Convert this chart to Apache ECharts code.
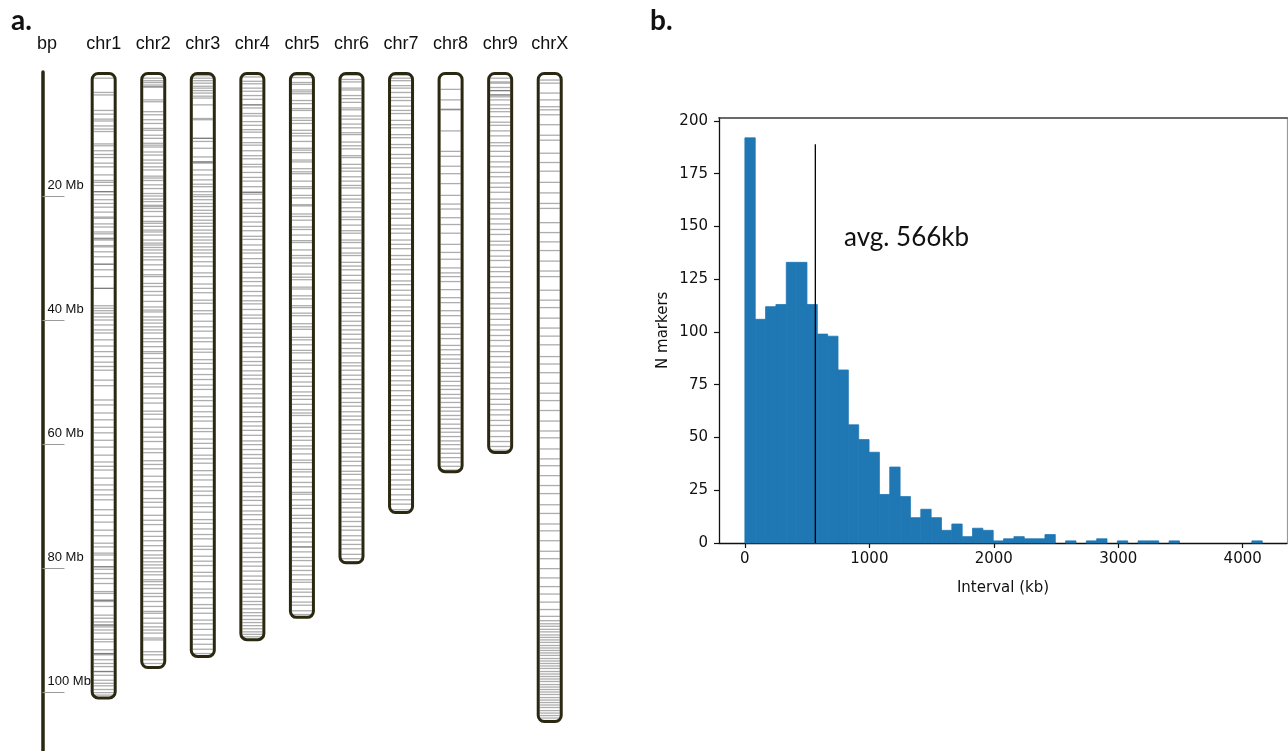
<!DOCTYPE html>
<html>
<head>
<meta charset="utf-8">
<script src="https://cdn.jsdelivr.net/npm/echarts@6/dist/echarts.min.js"></script>
<style>
  html, body { margin: 0; padding: 0; background: #ffffff; }
  #chart { width: 1288px; height: 751px; }
</style>
</head>
<body>
<div id="chart"></div>
<script>
// ---- Panel a: marker positions along each chromosome (Mb) ----
const chromNames = ['chr1', 'chr2', 'chr3', 'chr4', 'chr5', 'chr6', 'chr7', 'chr8', 'chr9', 'chrX'];
const chromLengthMb = [101.2, 96.3, 94.5, 91.8, 88.2, 79.4, 71.3, 64.7, 61.6, 105.0];
const bpTicksMb = [20, 40, 60, 80, 100];

const markersChr1 = [1.0,3.3,3.7,6.2,6.8,7.6,7.9,8.7,9.2,9.6,11.6,11.9,12.7,13.3,13.8,14.7,15.3,16.6,17.5,17.8,18.3,19.3,19.3,19.8,20.6,21.2,21.8,22.6,23.4,23.6,24.5,25.0,25.8,26.1,26.8,26.9,27.1,28.0,28.2,29.0,29.8,31.0,31.0,31.9,33.0,34.9,34.9,37.7,38.1,38.5,38.9,39.5,40.0,40.8,41.6,42.1,43.2,44.2,45.1,45.9,46.8,47.5,48.1,49.7,50.6,52.9,53.7,55.0,56.1,57.3,58.2,59.4,60.5,61.8,62.9,63.6,64.2,65.5,66.6,67.4,68.2,69.0,70.6,71.5,72.6,73.9,74.8,76.0,76.6,77.6,77.9,78.7,79.8,79.8,80.2,80.9,81.7,82.5,83.8,84.1,85.2,85.2,85.4,86.2,87.6,88.1,88.7,89.2,89.2,89.5,90.0,90.5,91.5,91.9,93.2,93.8,93.8,94.0,94.8,95.4,95.9,96.7,96.7,97.3,98.1,98.6,99.0,99.6,100.1,100.5];
const markersChr2 = [1.0,1.4,1.7,2.1,2.4,2.4,4.5,4.8,6.4,6.9,7.7,8.3,9.1,9.4,10.2,10.7,11.5,11.8,12.1,12.9,13.4,14.2,14.7,15.3,15.8,16.8,17.1,17.5,18.2,18.8,19.6,20.0,20.5,20.9,21.5,21.7,22.0,22.5,23.3,24.1,24.4,24.9,25.5,25.8,26.3,27.1,27.6,27.9,28.3,28.7,29.2,29.8,30.3,31.1,31.9,32.7,33.0,34.1,34.6,35.4,36.0,37.0,37.9,38.4,38.7,39.5,40.0,40.5,41.1,41.6,42.1,43.0,43.5,44.3,45.1,45.4,46.2,46.9,47.8,48.5,49.1,50.3,50.8,51.9,52.6,53.4,54.7,55.2,56.0,57.3,58.1,58.9,59.6,60.8,61.4,62.7,63.3,64.0,65.2,66.1,66.9,67.5,68.8,69.4,70.2,71.5,72.3,73.0,74.1,74.9,75.6,76.4,77.2,77.9,78.4,79.0,79.5,80.0,80.6,81.1,81.9,82.2,82.7,83.3,84.1,84.6,85.4,86.2,87.0,87.3,88.1,88.9,89.5,90.0,90.5,91.3,91.6,93.5,94.0,94.8,95.4];
const markersChr3 = [0.6,1.0,1.4,1.8,2.3,2.6,3.0,3.4,3.9,4.2,5.3,7.5,7.7,10.7,10.7,11.2,12.3,13.7,14.5,14.5,14.7,15.8,16.6,17.4,18.1,18.5,19.3,19.8,20.1,20.6,21.2,21.7,22.3,22.8,23.3,23.9,24.4,24.9,25.5,26.0,26.6,27.1,27.6,28.2,28.7,29.2,29.8,30.6,31.3,32.4,33.0,34.2,34.9,35.6,36.8,37.3,38.5,39.0,40.2,41.1,41.8,42.9,43.5,44.7,45.2,46.4,47.0,47.9,48.8,49.6,50.5,51.2,52.4,53.0,53.9,54.8,55.6,56.3,57.5,58.0,59.2,59.9,60.7,61.8,62.4,63.1,64.3,65.0,65.8,66.9,67.6,68.3,69.5,70.1,71.0,72.2,72.8,73.7,74.6,75.3,76.5,77.0,78.1,78.9,79.6,80.7,81.3,82.2,83.4,84.0,84.8,85.9,86.5,87.3,88.4,89.0,89.9,90.8,91.5,92.3,93.1,93.8];
const markersChr4 = [0.4,0.8,1.5,1.9,2.6,3.1,3.8,4.4,5.3,5.3,5.8,6.7,7.1,8.0,8.6,9.3,9.7,10.6,11.4,11.8,12.7,13.5,14.0,14.9,15.3,16.2,17.0,17.6,18.5,19.4,19.4,19.7,20.6,21.1,22.0,22.8,23.3,24.2,24.9,25.6,26.5,27.0,27.9,28.7,29.2,30.1,30.9,31.5,32.3,33.2,33.8,34.5,35.4,36.1,36.9,37.4,38.3,39.2,39.7,40.6,41.5,42.1,42.8,43.7,44.3,45.1,46.0,46.7,47.3,48.2,48.9,49.5,50.4,51.1,51.9,52.6,53.4,54.0,54.9,55.6,56.4,57.1,57.8,58.6,59.5,60.1,60.9,61.7,62.3,63.2,63.9,64.6,65.4,66.2,66.8,67.7,68.5,69.1,69.9,70.8,71.4,72.2,73.0,73.7,74.5,75.2,76.0,76.8,77.5,78.3,79.0,79.7,80.5,81.3,82.0,82.6,83.4,84.1,84.7,85.4,85.9,86.6,87.2,87.7,88.3,88.8,89.3,89.8,90.3,90.7,91.1];
const markersChr5 = [0.5,0.9,1.7,2.0,2.9,3.2,3.5,4.6,5.1,5.9,6.2,7.4,7.8,8.3,9.4,9.9,10.3,11.2,12.3,12.6,13.0,14.2,14.5,15.6,16.1,16.4,17.6,18.5,18.8,19.9,20.3,21.4,21.6,22.9,23.3,23.9,25.0,25.4,26.3,27.2,27.5,28.7,29.6,30.0,30.8,31.3,32.6,33.1,33.5,34.7,35.0,36.1,36.6,37.7,38.0,38.9,39.3,40.6,41.1,41.5,42.8,43.2,44.0,44.9,45.3,46.5,46.9,47.9,48.6,49.1,50.0,50.7,51.6,52.2,52.8,53.6,54.5,55.0,55.4,56.7,57.3,57.9,58.8,59.4,60.3,60.8,61.6,62.6,63.0,64.1,64.5,65.3,66.2,66.9,67.8,68.1,69.0,69.9,70.4,71.5,72.0,72.7,73.6,74.3,75.0,75.8,76.6,76.6,77.4,78.3,78.8,79.7,80.4,81.1,81.9,82.3,83.4,83.9,84.6,85.5,86.0,86.9,87.5];
const markersChr6 = [0.5,1.2,1.6,2.6,2.9,3.8,4.3,4.9,5.8,6.1,7.1,7.6,8.4,9.0,9.8,10.1,11.3,11.9,12.4,13.5,13.8,14.9,15.5,16.0,16.9,17.6,18.3,18.7,19.9,20.5,21.0,21.9,22.5,23.4,23.8,24.7,25.6,26.0,27.1,27.5,28.4,29.2,29.6,30.7,31.3,31.9,32.8,33.6,34.0,35.2,35.7,36.5,37.2,37.9,38.8,39.3,40.2,40.9,41.6,42.3,43.1,43.7,44.6,45.3,45.8,46.9,47.4,48.1,48.9,49.6,50.4,51.1,51.7,52.6,53.3,53.9,54.8,55.5,56.1,56.9,57.8,58.3,59.2,59.9,60.5,61.4,62.1,62.8,63.5,64.4,64.9,65.8,66.6,67.2,68.0,68.9,69.4,70.3,71.0,71.8,72.5,73.3,73.9,74.8,75.5,76.2,76.9,77.8,78.5,79.0];
const markersChr7 = [0.5,1.0,1.4,2.2,2.6,3.3,4.1,4.6,5.5,6.2,6.7,7.8,8.5,9.0,10.1,10.6,11.7,12.2,13.3,13.9,14.8,15.4,16.5,17.1,17.9,18.8,19.5,20.6,21.2,22.1,22.9,23.6,24.7,25.3,26.0,27.1,27.8,28.5,29.6,30.2,31.1,31.9,32.6,33.7,34.3,35.2,36.0,36.8,37.9,38.5,39.3,40.2,40.9,41.8,42.6,43.3,44.2,45.0,45.7,46.6,47.4,48.1,49.0,49.8,50.5,51.4,52.2,52.9,53.8,54.6,55.3,56.2,57.0,57.7,58.6,59.4,60.1,61.0,61.8,62.5,63.4,64.2,64.9,65.8,66.6,67.3,68.2,69.0,69.7,70.6];
const markersChr8 = [2.8,4.5,6.0,6.1,9.5,12.8,13.6,15.2,16.4,18.0,19.9,21.3,22.1,23.5,24.6,26.0,27.8,29.1,30.2,31.6,32.4,33.0,33.8,35.1,36.4,37.2,38.5,39.3,40.6,41.2,42.3,43.0,44.1,44.8,45.6,46.3,47.0,47.8,48.5,49.1,49.9,50.6,51.2,52.0,52.6,53.3,54.1,54.7,55.4,56.0,56.8,57.5,58.1,58.8,59.5,60.1,60.8,61.5,62.2,62.9,63.6,64.2];
const markersChr9 = [1.0,1.6,1.8,2.5,3.0,3.0,3.7,3.7,4.0,4.5,5.3,5.9,6.4,7.2,8.1,8.6,9.5,10.3,11.4,11.9,12.8,13.6,14.5,15.3,16.2,16.9,17.9,18.6,19.4,20.5,21.1,22.0,22.9,23.7,24.5,25.4,26.2,27.3,27.9,28.8,29.7,30.4,31.5,32.2,33.0,33.9,34.8,35.6,36.5,37.4,38.1,39.0,39.9,40.8,41.6,42.5,43.3,44.2,45.1,45.9,46.8,47.6,48.5,49.3,50.2,51.1,51.9,52.8,53.6,54.5,55.3,56.2,57.0,57.9,58.8,59.6,60.4,61.0];
const markersChrX = [1.3,1.8,3.4,4.5,5.6,6.1,6.9,8.5,10.2,11.0,13.1,14.6,16.0,17.8,19.5,21.2,22.0,24.3,25.9,27.4,28.8,30.5,32.1,33.0,35.2,36.8,38.0,39.7,41.3,42.6,44.0,45.9,47.1,48.5,50.2,51.8,53.0,54.6,56.3,57.9,59.0,60.8,62.4,63.5,65.1,66.7,68.0,69.8,71.2,72.9,74.0,75.6,77.3,78.5,80.1,81.6,83.0,84.2,85.5,86.7,87.8,88.5,89.0,89.4,89.9,90.3,90.8,91.2,91.6,92.0,92.5,92.9,93.3,93.7,94.1,94.6,95.0,95.4,95.8,96.2,96.7,97.1,97.5,97.9,98.3,98.8,99.2,99.6,100.0,100.4,100.9,101.3,101.7,102.1,102.5,103.0,103.4,103.8,104.2,104.6];

const markersByChrom = [markersChr1, markersChr2, markersChr3, markersChr4, markersChr5,
                        markersChr6, markersChr7, markersChr8, markersChr9, markersChrX];

// ---- Panel b: histogram of inter-marker intervals ----
const histCounts = [192,106,112,113,133,133,113,99,98,82,56,49,43,23,36,22,12,16,12,6,9,3,7,6,1,2,3,2,2,4,0,1,0,1,2,0,1,0,1,1,0,1,0,0,0,0,0,0,0,1];
const histRangeKb = [0, 4157];
const histTicksKb = [0, 1000, 2000, 3000, 4000];
const countTicks = [0, 25, 50, 75, 100, 125, 150, 175, 200];
const avgIntervalKb = 566;
const avgLineTopCount = 189;
const avgLabel = 'avg. 566kb';

// ---- derived series data ----
const chromBodies = chromLengthMb.map((len, i) => [i, len]);
const markerData = [];
markersByChrom.forEach((list, i) => list.forEach(pos => markerData.push([i, pos])));
const binWidth = (histRangeKb[1] - histRangeKb[0]) / histCounts.length;
const histData = histCounts
  .map((c, i) => [histRangeKb[0] + i * binWidth, histRangeKb[0] + (i + 1) * binWidth, c])
  .filter(d => d[2] > 0);

const OUTLINE = '#2a2810';
const BAR = '#1f77b4';
const SANS = '"Liberation Sans", Arial, sans-serif';
const MPL = '"DejaVu Sans", sans-serif';

function chromRect(api, halfW) {
  const top = api.coord([api.value(0), 0]);
  const bot = api.coord([api.value(0), api.value(1)]);
  return { x: top[0] - halfW, y: top[1] + 1.5, width: halfW * 2, height: bot[1] - top[1] - 3, r: 6 };
}

const chart = echarts.init(document.getElementById('chart'), null, { renderer: 'canvas' });
chart.setOption({
  animation: false,
  backgroundColor: '#ffffff',
  grid: [
    { left: 78.9, width: 495.6, top: 72, height: 682, outerBoundsMode: 'none', containLabel: false },
    { left: 719, width: 568, top: 117.6, height: 425.4, outerBoundsMode: 'none', containLabel: false }
  ],
  xAxis: [
    {
      gridIndex: 0, type: 'category', data: chromNames, position: 'top',
      axisLine: { show: false }, axisTick: { show: false }, splitLine: { show: false },
      axisLabel: { fontSize: 18, color: '#111', fontFamily: SANS, margin: 19 }
    },
    {
      gridIndex: 1, type: 'value', min: -208, max: 4356, position: 'bottom',
      axisLine: { show: true, onZero: false, lineStyle: { color: '#111', width: 1.3 } },
      axisTick: { show: true, customValues: histTicksKb, length: 5, lineStyle: { color: '#111', width: 1.2 } },
      axisLabel: { customValues: histTicksKb, formatter: v => String(v), fontSize: 15, color: '#111', fontFamily: MPL, margin: 9 },
      splitLine: { show: false },
      name: 'Interval (kb)', nameLocation: 'middle', nameGap: 38,
      nameTextStyle: { fontSize: 15, color: '#111', fontFamily: MPL }
    },
    {
      gridIndex: 1, type: 'value', min: -208, max: 4356, position: 'top',
      axisLine: { show: true, onZero: false, lineStyle: { color: '#3a3a3a', width: 1.6 } },
      axisTick: { show: false }, axisLabel: { show: false }, splitLine: { show: false }
    }
  ],
  yAxis: [
    {
      gridIndex: 0, type: 'value', inverse: true, min: 0, max: 110, position: 'left', offset: 36.4,
      axisLine: { show: true, lineStyle: { color: OUTLINE, width: 3.5 } },
      axisTick: { show: true, inside: true, length: 22, customValues: bpTicksMb, lineStyle: { color: '#9a9a9a', width: 1 } },
      axisLabel: {
        show: true, inside: true, customValues: bpTicksMb, margin: 5,
        formatter: v => v + ' Mb', fontSize: 13, color: '#111', fontFamily: SANS,
        verticalAlign: 'bottom', padding: [0, 0, 4, 0]
      },
      splitLine: { show: false },
      name: 'bp', nameLocation: 'start', nameGap: 28,
      nameTextStyle: { fontSize: 18, color: '#111', fontFamily: SANS, align: 'center', verticalAlign: 'middle', padding: [0, 0, 0, 9] }
    },
    {
      gridIndex: 1, type: 'value', min: 0, max: 201.6, position: 'left',
      axisLine: { show: true, onZero: false, lineStyle: { color: '#111', width: 1.3 } },
      axisTick: { show: true, customValues: countTicks, length: 5, lineStyle: { color: '#111', width: 1.2 } },
      axisLabel: { customValues: countTicks, fontSize: 15, color: '#111', fontFamily: MPL, margin: 11 },
      splitLine: { show: false },
      name: 'N markers', nameLocation: 'middle', nameGap: 48, nameRotate: 90,
      nameTextStyle: { fontSize: 15, color: '#111', fontFamily: MPL }
    },
    {
      gridIndex: 1, type: 'value', min: 0, max: 201.6, position: 'right',
      axisLine: { show: true, onZero: false, lineStyle: { color: '#9a9a9a', width: 1.2 } },
      axisTick: { show: false }, axisLabel: { show: false }, splitLine: { show: false }
    }
  ],
  series: [
    {
      // chromosome bodies (white fill)
      type: 'custom', xAxisIndex: 0, yAxisIndex: 0, z: 1, silent: true,
      data: chromBodies,
      renderItem: (params, api) => ({ type: 'rect', shape: chromRect(api, 11.5), style: { fill: '#ffffff' } })
    },
    {
      // one horizontal tick per marker
      type: 'custom', xAxisIndex: 0, yAxisIndex: 0, z: 2, silent: true,
      data: markerData,
      renderItem: (params, api) => {
        const p = api.coord([api.value(0), api.value(1)]);
        return {
          type: 'line',
          shape: { x1: p[0] - 10, y1: p[1], x2: p[0] + 10, y2: p[1] },
          style: { stroke: 'rgba(60,60,60,0.42)', lineWidth: 1.3 }
        };
      }
    },
    {
      // chromosome outlines
      type: 'custom', xAxisIndex: 0, yAxisIndex: 0, z: 3, silent: true,
      data: chromBodies,
      renderItem: (params, api) => ({
        type: 'rect', shape: chromRect(api, 11.5),
        style: { fill: 'none', stroke: OUTLINE, lineWidth: 3 }
      })
    },
    {
      // histogram bins
      type: 'custom', xAxisIndex: 1, yAxisIndex: 1, z: 2, silent: true,
      encode: { x: [0, 1], y: 2 },
      data: histData,
      renderItem: (params, api) => {
        const a = api.coord([api.value(0), api.value(2)]);
        const b = api.coord([api.value(1), 0]);
        return {
          type: 'rect',
          shape: { x: a[0], y: a[1], width: b[0] - a[0], height: b[1] - a[1] },
          style: { fill: BAR, stroke: BAR, lineWidth: 0.8 }
        };
      }
    },
    {
      // average interval marker
      type: 'line', xAxisIndex: 1, yAxisIndex: 1, z: 5, silent: true,
      symbol: 'none', showSymbol: false,
      data: [[avgIntervalKb, 0], [avgIntervalKb, avgLineTopCount]],
      lineStyle: { color: '#000000', width: 1.3 }
    }
  ],
  graphic: [
    { type: 'text', x: 11, y: 21, style: { text: 'a.', font: 'bold 28px Lato, "Open Sans", sans-serif', fill: '#111', align: 'left', verticalAlign: 'middle' } },
    { type: 'text', x: 650, y: 21, style: { text: 'b.', font: 'bold 28px Lato, "Open Sans", sans-serif', fill: '#111', align: 'left', verticalAlign: 'middle' } },
    { type: 'text', x: 844, y: 238, z: 10, style: { text: avgLabel, font: '26px Lato, "Open Sans", sans-serif', fill: '#111', align: 'left', verticalAlign: 'middle' } }
  ]
});
</script>
</body>
</html>
